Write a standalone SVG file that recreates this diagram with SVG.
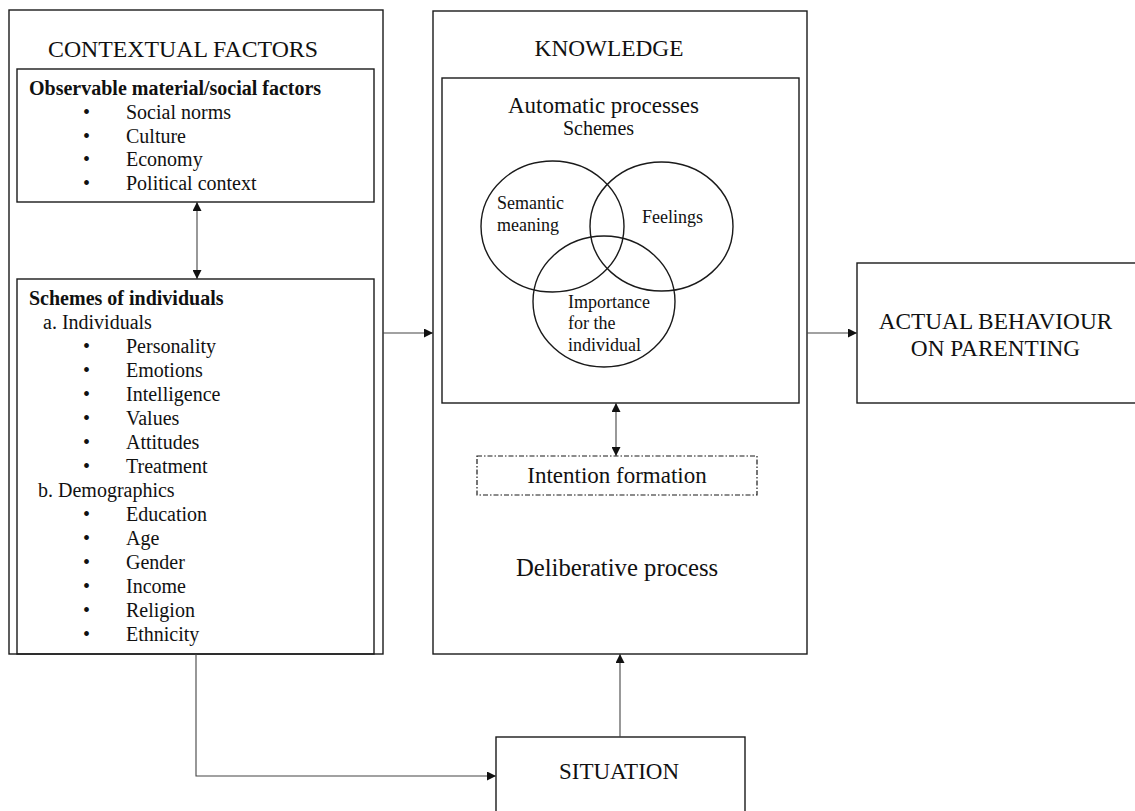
<svg xmlns="http://www.w3.org/2000/svg" width="1135" height="811" viewBox="0 0 1135 811">
<style>
.box{fill:none;stroke:#1a1a1a;stroke-width:1.4}
.dash{fill:none;stroke:#1a1a1a;stroke-width:1.2;stroke-dasharray:5 2 1.5 2}
.conn{fill:none;stroke:#444;stroke-width:1.1}
text{font-family:"Liberation Serif","Times New Roman",serif;fill:#111}
.t{font-size:23.3px}
.b{font-size:20px;font-weight:bold}
.l{font-size:20px}
.v{font-size:18px}
.c{text-anchor:middle}
</style>
<defs>
<marker id="ah" viewBox="0 0 10 10" refX="10" refY="5" markerWidth="9" markerHeight="9" markerUnits="userSpaceOnUse" orient="auto-start-reverse">
<path d="M0,0 L10,5 L0,10 z" fill="#111"/>
</marker>
</defs>
<rect width="1135" height="811" fill="#fff"/>

<g id="contextual">
<rect class="box" x="9" y="10" width="374" height="644"/>
<text class="c" x="183" y="57" style="font-size:23.8px">CONTEXTUAL FACTORS</text>
</g>

<g id="observable">
<rect class="box" x="17" y="69" width="357" height="133"/>
<text class="b" x="29" y="95">Observable material/social factors</text>
<g class="l">
<text x="83" y="119">•</text><text x="126" y="119">Social norms</text>
<text x="83" y="143">•</text><text x="126" y="143">Culture</text>
<text x="83" y="166">•</text><text x="126" y="166">Economy</text>
<text x="83" y="190">•</text><text x="126" y="190">Political context</text>
</g>
</g>

<g id="schemes-individuals">
<rect class="box" x="17" y="279" width="357" height="375"/>
<text class="b" x="29" y="305">Schemes of individuals</text>
<g class="l">
<text x="43" y="329">a. Individuals</text>
<text x="83" y="353">•</text><text x="126" y="353">Personality</text>
<text x="83" y="377">•</text><text x="126" y="377">Emotions</text>
<text x="83" y="401">•</text><text x="126" y="401">Intelligence</text>
<text x="83" y="425">•</text><text x="126" y="425">Values</text>
<text x="83" y="449">•</text><text x="126" y="449">Attitudes</text>
<text x="83" y="473">•</text><text x="126" y="473">Treatment</text>
<text x="38" y="497">b. Demographics</text>
<text x="83" y="521">•</text><text x="126" y="521">Education</text>
<text x="83" y="545">•</text><text x="126" y="545">Age</text>
<text x="83" y="569">•</text><text x="126" y="569">Gender</text>
<text x="83" y="593">•</text><text x="126" y="593">Income</text>
<text x="83" y="617">•</text><text x="126" y="617">Religion</text>
<text x="83" y="641">•</text><text x="126" y="641">Ethnicity</text>
</g>
</g>

<g id="knowledge">
<rect class="box" x="433" y="11" width="374" height="643"/>
<text class="t c" x="609" y="56">KNOWLEDGE</text>
<text class="c" x="617" y="576" style="font-size:24.7px">Deliberative process</text>
</g>

<g id="automatic">
<rect class="box" x="442" y="78" width="357" height="325"/>
<text class="c" x="603.5" y="113" style="font-size:23px">Automatic processes</text>
<text class="c" x="598.5" y="135" style="font-size:20px">Schemes</text>
</g>

<g id="semantic">
<ellipse class="box" cx="552.5" cy="226.5" rx="71.5" ry="65.5"/>
<text class="v" x="497" y="209">Semantic</text>
<text class="v" x="497" y="231">meaning</text>
</g>
<g id="feelings">
<ellipse class="box" cx="661.5" cy="226.5" rx="71.5" ry="64.5"/>
<text class="v" x="642" y="223">Feelings</text>
</g>
<g id="importance">
<ellipse class="box" cx="604" cy="301.5" rx="71" ry="65.5"/>
<text class="v" x="568" y="308">Importance</text>
<text class="v" x="568" y="329">for the</text>
<text class="v" x="568" y="351">individual</text>
</g>

<g id="intention">
<rect class="dash" x="477" y="456" width="280" height="39"/>
<text class="c" x="617" y="483" style="font-size:23px">Intention formation</text>
</g>

<g id="actual">
<rect class="box" x="857" y="263" width="290" height="140"/>
<text class="t c" x="995.5" y="329">ACTUAL BEHAVIOUR</text>
<text class="t c" x="995.5" y="356">ON PARENTING</text>
</g>

<g id="situation">
<rect class="box" x="496" y="737" width="249" height="90"/>
<text class="c" x="619" y="779" style="font-size:23px">SITUATION</text>
</g>

<g id="connectors">
<line class="conn" x1="197" y1="202" x2="197" y2="279" marker-start="url(#ah)" marker-end="url(#ah)"/>
<line class="conn" x1="383" y1="333" x2="433" y2="333" marker-end="url(#ah)"/>
<line class="conn" x1="807" y1="333" x2="857" y2="333" marker-end="url(#ah)"/>
<line class="conn" x1="616" y1="403" x2="616" y2="456" marker-start="url(#ah)" marker-end="url(#ah)"/>
<line class="conn" x1="620" y1="737" x2="620" y2="654" marker-end="url(#ah)"/>
<polyline class="conn" points="196,654 196,776 496,776" marker-end="url(#ah)"/>
</g>
</svg>
